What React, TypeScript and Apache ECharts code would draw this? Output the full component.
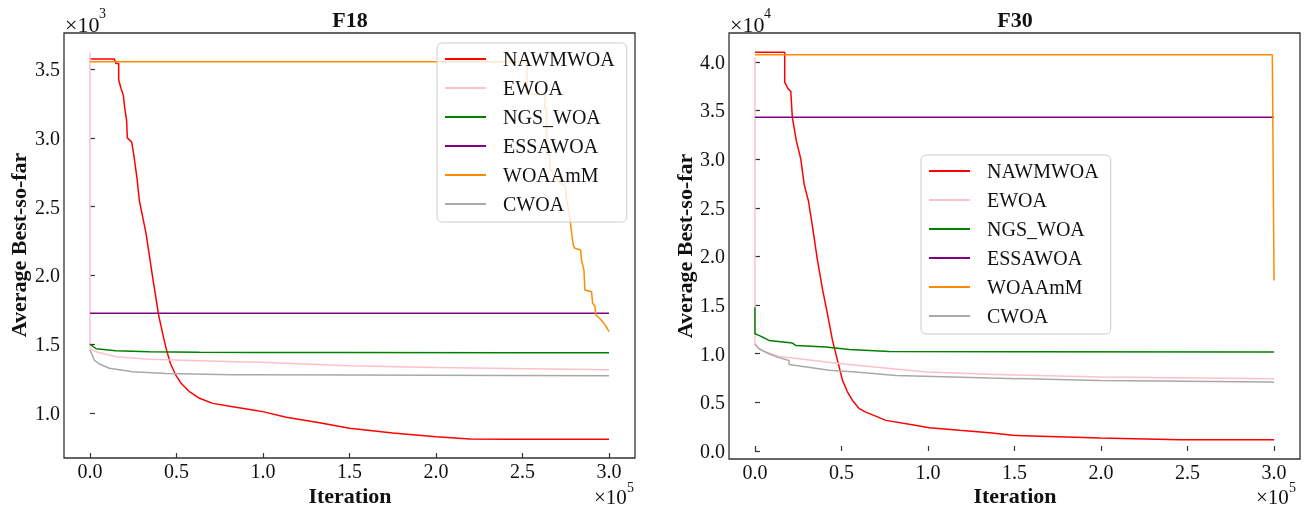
import React, { useEffect, useRef } from "react";
import * as echarts from "echarts";

const NAMES = ["NAWMWOA", "EWOA", "NGS_WOA", "ESSAWOA", "WOAAmM", "CWOA"];
const COLORS = ["#ff0000", "#ffc0cb", "#008000", "#800080", "#ff8c00", "#a9a9a9"];

const ITER_TICKS = [0, 50000, 100000, 150000, 200000, 250000, 300000];
const F18_TICKS = [1000, 1500, 2000, 2500, 3000, 3500];
const F30_TICKS = [0, 5000, 10000, 15000, 20000, 25000, 30000, 35000, 40000];

// F18 curves: [iteration, average best-so-far]
const f18_NAWMWOA = [
  [0, 3573], [14100, 3573], [15000, 3540], [16600, 3540], [16600, 3420], [17900, 3360],
  [19300, 3310], [20000, 3226], [21200, 3124], [21600, 3000], [24100, 2970], [25200, 2887],
  [27200, 2705], [28500, 2548], [32400, 2306], [36200, 1990], [39700, 1712], [42000, 1579],
  [44000, 1470], [46500, 1360], [49600, 1276], [52700, 1216], [57500, 1155], [63300, 1107],
  [71000, 1070], [82500, 1046], [99900, 1010], [113400, 969], [132700, 930], [150000, 889],
  [175000, 855], [200000, 828], [219500, 811], [250000, 809], [300000, 809],
];
const f18_EWOA = [
  [0, 3618], [0, 1470], [3500, 1445], [15000, 1409], [34300, 1390], [63300, 1380],
  [101800, 1368], [138500, 1349], [150000, 1344], [200000, 1330], [300000, 1315],
];
const f18_NGS_WOA = [
  [0, 1501], [3500, 1467], [15000, 1453], [34300, 1446], [63300, 1441], [145000, 1440], [300000, 1438],
];
const f18_ESSAWOA = [[0, 1725], [300000, 1725]];
const f18_WOAAmM = [
  [0, 3553], [252600, 3553], [252600, 3323], [262900, 3311], [262900, 3214], [263900, 3214],
  [263900, 2887], [265800, 2875], [265800, 2778], [271600, 2669], [274500, 2657], [275500, 2548],
  [277000, 2451], [278300, 2318], [279300, 2221], [280300, 2197], [283600, 2185], [284100, 2112],
  [285500, 2039], [286000, 1894], [289900, 1882], [290500, 1797], [291800, 1778], [292400, 1712],
  [295100, 1681], [297000, 1652], [298600, 1623], [300000, 1591],
];
const f18_CWOA = [
  [0, 1460], [2500, 1385], [5400, 1356], [11200, 1325], [24700, 1300], [44000, 1288],
  [82500, 1278], [150000, 1276], [300000, 1271],
];

// F30 curves
const f30_NAWMWOA = [
  [0, 40970], [17200, 40970], [17200, 37890], [19300, 37200], [20700, 36960], [21600, 34300],
  [23900, 31900], [26500, 30000], [28400, 27450], [30300, 26100], [30900, 25720], [33300, 23000],
  [36000, 19750], [39000, 16670], [41900, 14100], [44800, 11370], [47700, 9310], [50600, 7260],
  [53500, 6060], [56400, 5200], [60300, 4350], [64100, 4000], [75700, 3150], [89200, 2740],
  [100800, 2400], [118200, 2130], [135600, 1890], [149100, 1610], [199300, 1340], [245700, 1170],
  [300000, 1170],
];
const f30_EWOA = [
  [0, 40450], [0, 11000], [1300, 10680], [6200, 10170], [13900, 9720], [25500, 9480],
  [41000, 9140], [60300, 8800], [79600, 8460], [99000, 8110], [135600, 7880], [199300, 7600],
  [300000, 7430],
];
const f30_NGS_WOA = [
  [0, 14780], [0, 12050], [2300, 11880], [8100, 11370], [21600, 11090], [23600, 10850],
  [41000, 10680], [54500, 10440], [77700, 10240], [150000, 10200], [300000, 10170],
];
const f30_ESSAWOA = [[0, 34300], [300000, 34300]];
const f30_WOAAmM = [[0, 40730], [299000, 40730], [300000, 17530]];
const f30_CWOA = [
  [0, 11000], [2300, 10500], [8100, 10000], [13000, 9650], [19700, 9310], [19700, 8900],
  [42900, 8290], [58300, 8110], [81500, 7770], [135600, 7500], [199300, 7260], [300000, 7080],
];

const F18_DATA = [f18_NAWMWOA, f18_EWOA, f18_NGS_WOA, f18_ESSAWOA, f18_WOAAmM, f18_CWOA];
const F30_DATA = [f30_NAWMWOA, f30_EWOA, f30_NGS_WOA, f30_ESSAWOA, f30_WOAAmM, f30_CWOA];

const FONT = "'Liberation Serif', 'Times New Roman', serif";

export default function App() {
  const ref = useRef<HTMLDivElement>(null);
  useEffect(() => {
    if (!ref.current) return;
    const chart = echarts.init(ref.current, null, { renderer: "svg" });
    const grids = [
      { left: 64, top: 33, width: 571, height: 425 },
      { left: 729, top: 33, width: 571, height: 426 },
    ];
    const mkX = (i: number) => ({
      type: "value",
      gridIndex: i,
      min: -15000,
      max: 315000,
      axisLine: { show: false },
      axisTick: { show: true, inside: true, length: 5, customValues: ITER_TICKS, lineStyle: { color: "#333", width: 1.2 } },
      axisLabel: {
        customValues: ITER_TICKS,
        margin: 4,
        fontFamily: FONT,
        fontSize: 20,
        lineHeight: 18,
        color: "#111",
        formatter: (v: number) => (v / 1e5).toFixed(1),
      },
      splitLine: { show: false },
    });
    const mkY = (i: number, min: number, max: number, ticks: number[], div: number) => ({
      type: "value",
      gridIndex: i,
      min,
      max,
      axisLine: { show: false },
      axisTick: { show: true, inside: true, length: 5, customValues: ticks, lineStyle: { color: "#333", width: 1.2 } },
      axisLabel: {
        customValues: ticks,
        margin: 4,
        fontFamily: FONT,
        fontSize: 20,
        color: "#111",
        formatter: (v: number) => (v / div).toFixed(1),
      },
      splitLine: { show: false },
    });
    const series: any[] = [];
    [F18_DATA, F30_DATA].forEach((set, gi) => {
      set.forEach((d, k) => {
        series.push({
          type: "line",
          name: NAMES[k],
          xAxisIndex: gi,
          yAxisIndex: gi,
          data: d,
          showSymbol: false,
          symbol: "none",
          lineStyle: { color: COLORS[k], width: 1.5 },
          itemStyle: { color: COLORS[k] },
          emphasis: { disabled: true },
        });
      });
    });
    const legendCommon = {
      orient: "vertical",
      data: NAMES,
      icon: "rect",
      itemWidth: 41,
      itemHeight: 2,
      itemGap: 9,
      backgroundColor: "rgba(255,255,255,0.8)",
      borderColor: "#cccccc",
      borderWidth: 1,
      borderRadius: 5,
      padding: [6, 12, 8, 8],
      textStyle: { fontFamily: FONT, fontSize: 20, color: "#111", lineHeight: 20, padding: [0, 0, 0, 12] },
    };
    const txt = (x: number, y: number, text: string, size: number, bold = false) => ({
      type: "text",
      x,
      y,
      style: {
        text,
        fontFamily: FONT,
        fontSize: size,
        fontWeight: bold ? "bold" : "normal",
        fill: "#111",
        align: "center",
        verticalAlign: "middle",
      },
    });
    const plain = (x: number, y: number, text: string, size: number) => ({
      type: "text",
      x,
      y,
      style: { text, fontFamily: FONT, fontSize: size, fill: "#111", align: "left", verticalAlign: "middle" },
    });
    chart.setOption({
      animation: false,
      grid: grids.map((g) => ({ ...g, show: true, borderColor: "#333", borderWidth: 1.3, backgroundColor: "transparent" })),
      xAxis: [mkX(0), mkX(1)],
      yAxis: [
        mkY(0, 673, 3762, F18_TICKS, 1e3),
        mkY(1, -820, 42960, F30_TICKS, 1e4),
      ],
      legend: [
        { ...legendCommon, left: 437, top: 43 },
        { ...legendCommon, left: 921, top: 155 },
      ],
      series,
      graphic: [
        txt(350, 19, "F18", 22, true),
        txt(1015, 19, "F30", 22, true),
        txt(350, 495, "Iteration", 22, true),
        txt(1015, 495, "Iteration", 22, true),
        { ...txt(18, 245, "Average Best-so-far", 22, true), rotation: Math.PI / 2 },
        { ...txt(684, 246, "Average Best-so-far", 22, true), rotation: Math.PI / 2 },
        plain(65, 24, "×10", 22),
        plain(99, 13, "3", 14),
        plain(730, 24, "×10", 22),
        plain(764, 13, "4", 14),
        plain(594, 497, "×10", 21),
        plain(627, 487, "5", 14),
        plain(1256, 497, "×10", 21),
        plain(1289, 487, "5", 14),
      ],
    });
    return () => chart.dispose();
  }, []);
  return <div ref={ref} style={{ position: "fixed", left: 0, top: 0, width: 1313, height: 510 }} />;
}
